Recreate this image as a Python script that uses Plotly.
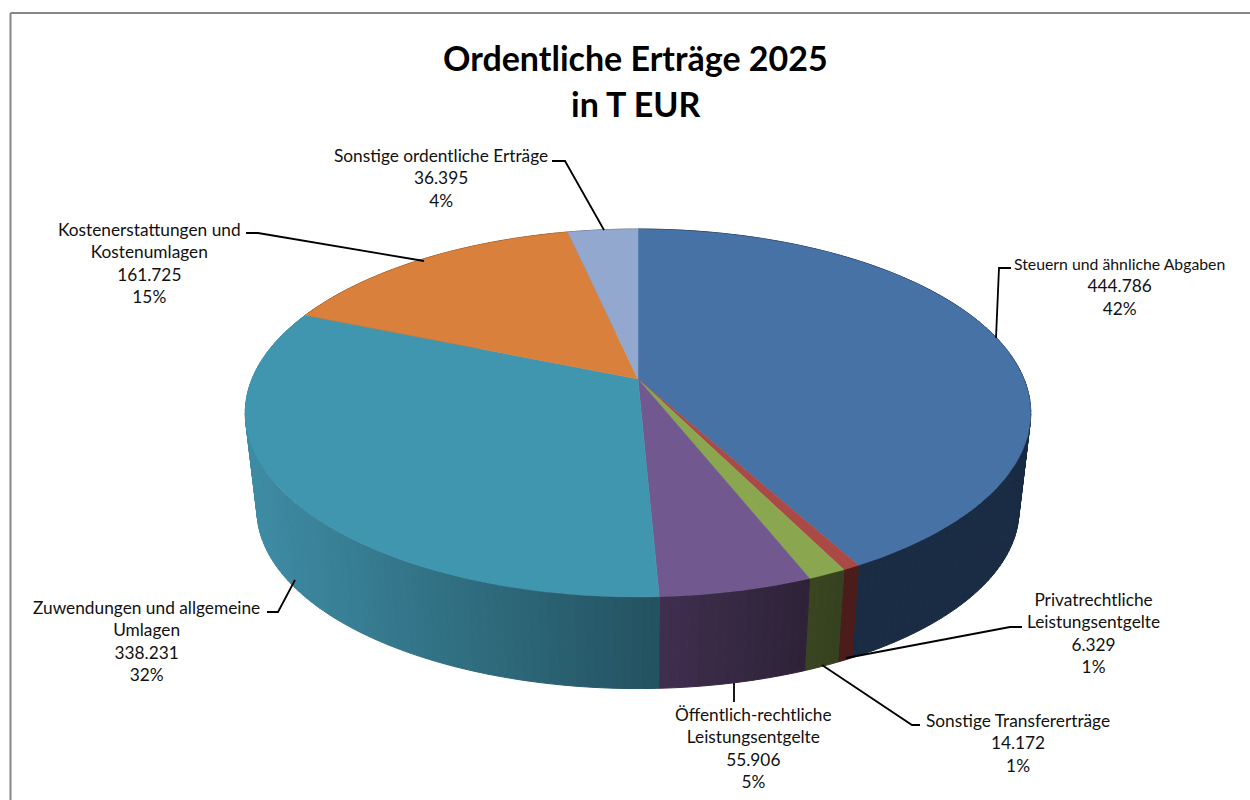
import numpy as np
import plotly.graph_objects as go

# ---------- data ----------
categories = ["Steuern und ähnliche Abgaben", "Privatrechtliche Leistungsentgelte",
              "Sonstige Transfererträge", "Öffentlich-rechtliche Leistungsentgelte",
              "Zuwendungen und allgemeine Umlagen", "Kostenerstattungen und Kostenumlagen",
              "Sonstige ordentliche Erträge"]
values = [444786, 6329, 14172, 55906, 338231, 161725, 36395]
percent_labels = ["42%", "1%", "1%", "5%", "32%", "15%", "4%"]
label_lines = [['<span style="font-size:15.8px">Steuern und ähnliche Abgaben</span>'],
               ["Privatrechtliche", "Leistungsentgelte"],
               ["Sonstige Transfererträge"],
               ["Öffentlich-rechtliche", "Leistungsentgelte"],
               ["Zuwendungen und allgemeine", "Umlagen"],
               ["Kostenerstattungen und", "Kostenumlagen"],
               ["Sonstige ordentliche Erträge"]]
title_lines = ["Ordentliche Erträge 2025", "in T EUR"]

# ---------- styles ----------
top_colors = ["#4672A6", "#A94A47", "#8AA64E", "#71588F", "#4095AF", "#D9803C", "#93A8CF"]
wall_start = ["#1A2C44", "#4A1C1A", "#3A4520", "#402E4F", "#3E8CA4", "#8A4E22", "#5A6A88"]
wall_end   = ["#1A2C44", "#4A1C1A", "#364020", "#2D2237", "#235260", "#8A4E22", "#5A6A88"]
TEXT = "#111111"
FONT = "Lato"

# ---------- projection (pixel space of the 1250x800 picture) ----------
CX, CY, BX, AY, K = 638.0, 379.0, 386.0, 177.7, 0.1848
VPY, SHRINK = 3650.0, 0.97

def top_point(theta):
    sx, cy = np.sin(theta), np.cos(theta)
    w = 1 + K * cy
    return CX + BX * sx / w, CY - AY * cy / w

def bottom_point(theta):
    x, y = top_point(theta)
    return CX + (x - CX) * SHRINK, VPY + (y - VPY) * SHRINK

def hex_rgb(h):
    return np.array([int(h[i:i + 2], 16) for i in (1, 3, 5)], float)

total = sum(values)
edges = np.concatenate([[0], np.cumsum(values)]) / total * 2 * np.pi

fig = go.Figure()

# walls first, the top face covers whatever lies behind it
for i in range(len(values)):
    a0, a1 = edges[i], edges[i + 1]
    n = max(2, int((a1 - a0) / 0.02))
    th = np.linspace(a0, a1, n + 1)
    xs_all = top_point(th)[0]
    x_lo, x_hi = (246.0, xs_all[0]) if i == 4 else (xs_all.min(), xs_all.max())
    c0, c1 = hex_rgb(wall_start[i]), hex_rgb(wall_end[i])
    for j in range(n):
        seg = np.array([th[j], th[j + 1]])
        tx, ty = top_point(seg)
        bx, by = bottom_point(seg)
        t = 0.5 if x_hi == x_lo else float(np.clip((tx.mean() - x_lo) / (x_hi - x_lo), 0, 1))
        r, g, b = c0 + (c1 - c0) * t
        col = f"rgb({r:.0f},{g:.0f},{b:.0f})"
        fig.add_trace(go.Scatter(x=[tx[0], tx[1], bx[1], bx[0], tx[0]],
                                 y=[ty[0], ty[1], by[1], by[0], ty[0]],
                                 mode="lines", fill="toself", fillcolor=col,
                                 line=dict(color=col, width=1),
                                 hoverinfo="skip", showlegend=False))

# top face slices
for i, name in enumerate(categories):
    th = np.linspace(edges[i], edges[i + 1], 200)
    x, y = top_point(th)
    fig.add_trace(go.Scatter(x=np.concatenate([[CX], x, [CX]]),
                             y=np.concatenate([[CY], y, [CY]]),
                             mode="lines", fill="toself", fillcolor=top_colors[i],
                             line=dict(color=top_colors[i], width=0.5),
                             name=name, showlegend=False,
                             text=f"{name}: {values[i]:,}".replace(",", "."), hoverinfo="text"))

# leader lines
leaders = [[(1011, 268), (999, 268), (996, 338)],
           [(1022, 627), (1010, 627), (846, 658)],
           [(920, 725), (912, 725), (822, 665)],
           [(734, 702), (734, 683)],
           [(267, 612), (278, 612), (295, 580)],
           [(246, 233), (258, 233), (424, 261)],
           [(552, 161), (565, 161), (604, 230)]]
for pts in leaders:
    fig.add_trace(go.Scatter(x=[p[0] for p in pts], y=[p[1] for p in pts], mode="lines",
                             line=dict(color="#000000", width=1.8),
                             hoverinfo="skip", showlegend=False))

# data labels
label_pos = [(1119, 286.5), (1093, 633), (1018, 743), (753, 748), (146, 641), (149, 263), (441, 178)]
for i, (px, py) in enumerate(label_pos):
    txt = "<br>".join(label_lines[i] + [f"{values[i]:,}".replace(",", "."), percent_labels[i]])
    fig.add_annotation(x=px, y=py, xref="x", yref="y", text=txt, showarrow=False,
                       align="center", xanchor="center", yanchor="middle",
                       font=dict(family=FONT, size=17.3, color=TEXT))

# title
for line, py in zip(title_lines, (57, 103)):
    fig.add_annotation(x=635.5, y=py, xref="x", yref="y", text=f"<b>{line}</b>",
                       showarrow=False, align="center", xanchor="center", yanchor="middle",
                       font=dict(family=FONT, size=34, color="#000000"))

# chart frame
for x0, y0, x1, y1 in [(10.5, 13, 10.5, 800), (10.5, 13, 1250, 13)]:
    fig.add_shape(type="line", x0=x0, y0=y0, x1=x1, y1=y1, xref="x", yref="y",
                  line=dict(color="#868686", width=2))

fig.update_layout(width=1250, height=800, margin=dict(l=0, r=0, t=0, b=0),
                  paper_bgcolor="white", plot_bgcolor="white", showlegend=False,
                  xaxis=dict(range=[0, 1250], visible=False, fixedrange=True),
                  yaxis=dict(range=[800, 0], visible=False, fixedrange=True))

fig.write_html("out.html", config={"displayModeBar": False},
               post_script="document.body.style.margin='0';")
